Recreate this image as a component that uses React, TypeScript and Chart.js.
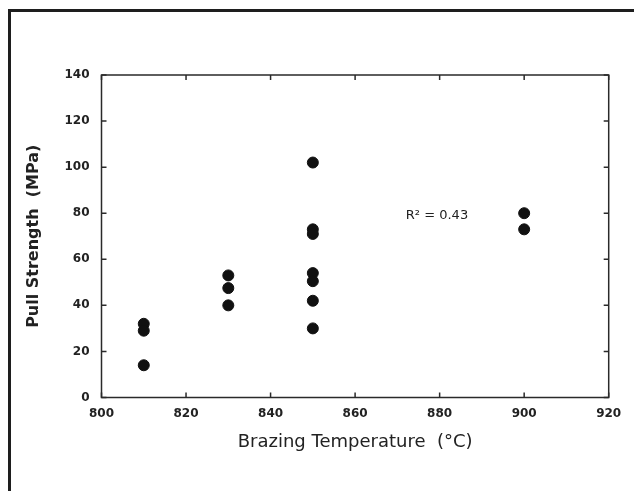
import { useEffect, useRef } from "react";
import { Chart, registerables } from "chart.js";

Chart.register(...registerables);

// Brazing temperature (°C) of each sample
const temperatures = [810, 810, 810, 830, 830, 830, 850, 850, 850, 850, 850, 850, 850, 900, 900];
// Pull strength (MPa) of each sample
const pullStrength = [32, 29, 14, 53, 47.5, 40, 102, 73, 71, 54, 50.5, 42, 30, 80, 73];

const xTicks = [800, 820, 840, 860, 880, 900, 920];
const yTicks = [0, 20, 40, 60, 80, 100, 120, 140];

const xTitle = "Brazing Temperature  (°C)";
const yTitle = "Pull Strength  (MPa)";

const annotationText = "R² = 0.43";
const annotationX = 872;
const annotationY = 79;

const W = 634;
const H = 483;

const framePlugin = {
  id: "frame",
  afterDraw(chart: any) {
    const { ctx, chartArea, scales } = chart;
    const { left, right, top, bottom } = chartArea;
    const x = scales.x;
    const y = scales.y;
    ctx.save();
    ctx.strokeStyle = "#2a2a2a";
    ctx.lineWidth = 1.5;
    ctx.strokeRect(left, top, right - left, bottom - top);
    ctx.beginPath();
    for (const v of yTicks) {
      const py = y.getPixelForValue(v);
      ctx.moveTo(left, py);
      ctx.lineTo(left + 5, py);
      ctx.moveTo(right, py);
      ctx.lineTo(right - 5, py);
    }
    for (const v of xTicks) {
      const px = x.getPixelForValue(v);
      ctx.moveTo(px, bottom);
      ctx.lineTo(px, bottom - 5);
      ctx.moveTo(px, top);
      ctx.lineTo(px, top + 5);
    }
    ctx.stroke();
    ctx.fillStyle = "#222";
    ctx.font = '13px "DejaVu Sans"';
    ctx.textAlign = "left";
    ctx.textBaseline = "middle";
    ctx.fillText(annotationText, x.getPixelForValue(annotationX), y.getPixelForValue(annotationY));
    ctx.restore();
  },
};

export default function App() {
  const canvasRef = useRef<HTMLCanvasElement | null>(null);

  useEffect(() => {
    const canvas = canvasRef.current;
    if (!canvas) return;
    const points = temperatures.map((t, i) => ({ x: t, y: pullStrength[i] }));
    const chart = new Chart(canvas, {
      type: "scatter",
      data: {
        datasets: [
          {
            label: "Pull strength",
            data: points,
            backgroundColor: "#111",
            borderColor: "#111",
            pointRadius: 5.5,
            pointStyle: "circle",
          },
        ],
      },
      options: {
        responsive: false,
        animation: false,
        devicePixelRatio: 1,
        layout: { padding: { left: 0, top: 67, right: 33.3, bottom: 0 } },
        plugins: {
          legend: { display: false },
          tooltip: { enabled: false },
        },
        scales: {
          x: {
            type: "linear",
            min: 800,
            max: 920,
            afterBuildTicks: (scale: any) => {
              scale.ticks = xTicks.map((v) => ({ value: v }));
            },
            afterFit: (scale: any) => {
              scale.height = 93.5;
            },
            grid: { display: false, drawTicks: false },
            border: { display: false },
            ticks: {
              padding: 9,
              color: "#222",
              font: { family: "DejaVu Sans", size: 12, weight: "bold" },
            },
            title: {
              display: true,
              text: xTitle,
              color: "#222",
              font: { family: "DejaVu Sans", size: 18 },
              padding: { top: 0, bottom: 38.2 },
            },
          },
          y: {
            type: "linear",
            min: 0,
            max: 140,
            afterBuildTicks: (scale: any) => {
              scale.ticks = yTicks.map((v) => ({ value: v }));
            },
            afterFit: (scale: any) => {
              scale.width = 93.5;
            },
            grid: { display: false, drawTicks: false },
            border: { display: false },
            ticks: {
              padding: 12,
              color: "#222",
              font: { family: "DejaVu Sans", size: 12, weight: "bold" },
            },
            title: {
              display: true,
              text: yTitle,
              color: "#222",
              font: { family: "DejaVu Sans", size: 16, weight: "bold" },
              padding: { top: 15.9, bottom: 0 },
            },
          },
        },
      },
      plugins: [framePlugin],
    } as any);
    return () => chart.destroy();
  }, []);

  return (
    <div style={{ position: "relative", width: W, height: H, overflow: "hidden" }}>
      <div
        style={{
          position: "absolute",
          left: 0,
          top: 1,
          width: W + 10,
          height: H + 10,
          borderLeft: "3px solid #1e1e1e",
          borderTop: "3px solid #1e1e1e",
          boxSizing: "border-box",
        }}
      />
      <canvas
        ref={canvasRef}
        width={W}
        height={H}
        style={{ position: "absolute", left: 0, top: 0 }}
      />
    </div>
  );
}
